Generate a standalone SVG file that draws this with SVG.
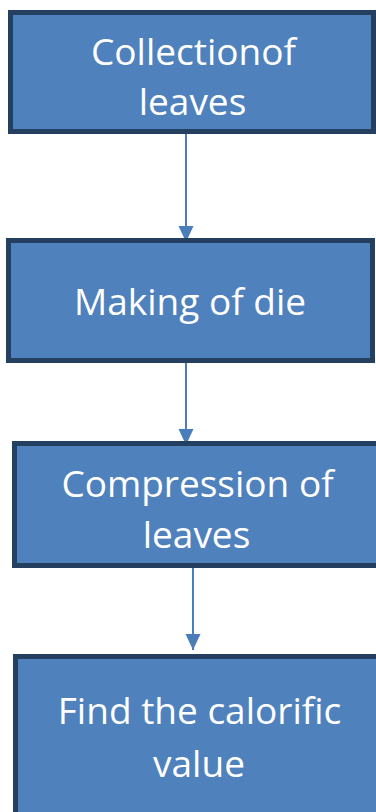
<svg xmlns="http://www.w3.org/2000/svg" width="376" height="812" viewBox="0 0 376 812">
<style>
.box{fill:#4F81BD;stroke:#243F60;stroke-width:5}
.lbl{fill:#FFFFFF;font-family:"Open Sans","Liberation Sans",sans-serif;font-size:37px;text-anchor:middle}
.conn{stroke:#4A7EBB;stroke-width:2;fill:none}
</style>
<defs>
<marker id="ah" markerUnits="userSpaceOnUse" markerWidth="16" markerHeight="16" refX="16" refY="8" orient="auto">
<path d="M0,0.5 L16,8 L0,15.5 z" fill="#4A7EBB"/>
</marker>
</defs>
<rect width="376" height="812" fill="#FFFFFF"/>
<g id="connectors">
<line class="conn" x1="186" y1="134" x2="186" y2="242" marker-end="url(#ah)"/>
<line class="conn" x1="186" y1="363" x2="186" y2="445" marker-end="url(#ah)"/>
<line class="conn" x1="193" y1="568" x2="193" y2="650" marker-end="url(#ah)"/>
</g>
<g id="node1">
<rect class="box" x="10.5" y="12.5" width="363" height="119"/>
<text class="lbl" x="193.5" y="65">Collectionof</text>
<text class="lbl" x="192.5" y="115">leaves</text>
</g>
<g id="node2">
<rect class="box" x="8.5" y="240.5" width="364" height="120"/>
<text class="lbl" x="190" y="315">Making of die</text>
</g>
<g id="node3">
<rect class="box" x="14.5" y="443.5" width="380" height="122"/>
<text class="lbl" x="197.5" y="497">Compression of</text>
<text class="lbl" x="196.5" y="548">leaves</text>
</g>
<g id="node4">
<rect class="box" x="15.5" y="656.5" width="380" height="200"/>
<text class="lbl" x="199.5" y="724">Find the calorific</text>
<text class="lbl" x="199" y="777">value</text>
</g>
</svg>
